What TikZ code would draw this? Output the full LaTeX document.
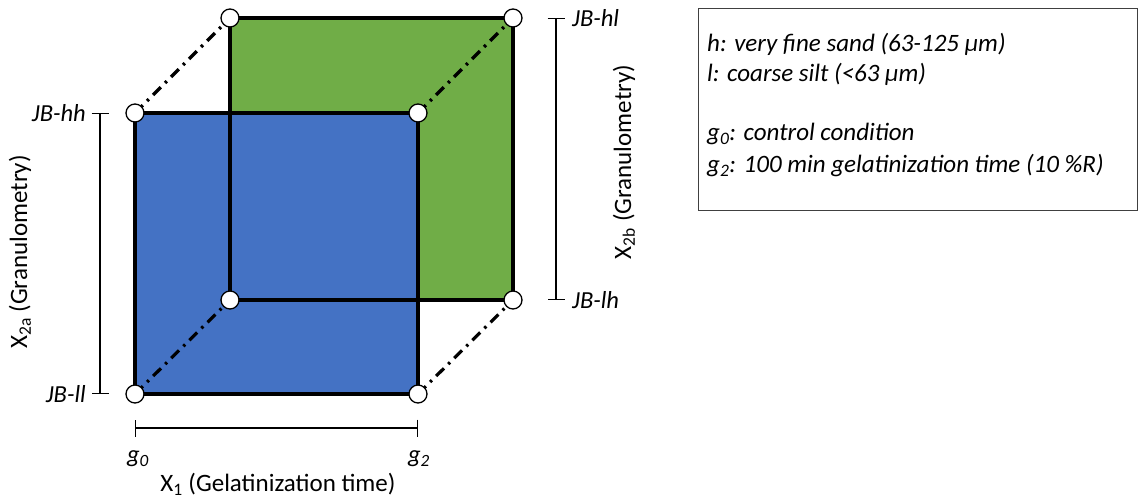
\documentclass[tikz,border=0pt]{standalone}
\usepackage{fontspec}
\setmainfont{Carlito}
\usetikzlibrary{arrows.meta}
\definecolor{fblue}{HTML}{4472C4}
\definecolor{fgreen}{HTML}{70AD47}
\definecolor{boxgray}{HTML}{404040}
\tikzset{
  edge/.style={line width=3.2pt, line cap=round},
  diag/.style={line width=3.2pt, dash pattern=on 11pt off 6pt on 2.5pt off 6pt},
  vertex/.style={circle, draw=black, fill=white, line width=1.3pt, minimum size=18pt, inner sep=0pt},
  axisline/.style={line width=1.4pt, {Bar[width=17pt,line width=1.4pt]}-{Bar[width=17pt,line width=1.4pt]}},
  lab/.style={font=\fontsize{24.5}{29}\selectfont\itshape, inner sep=0pt},
  leg/.style={font=\fontsize{25}{30}\selectfont\itshape, inner sep=0pt},
  axlab/.style={font=\fontsize{25}{30}\selectfont, inner sep=0pt}
}
\begin{document}
\begin{tikzpicture}[x=1pt,y=-1pt]
\useasboundingbox (0,0) rectangle (1140,500);
% corners
\coordinate (fll) at (135,394);
\coordinate (flr) at (418,394);
\coordinate (fhl) at (135,113);
\coordinate (fhr) at (418,113);
\coordinate (bll) at (230,300);
\coordinate (blr) at (513,300);
\coordinate (bhl) at (230,18);
\coordinate (bhr) at (513,18);
% fills
\fill[fgreen] (bll) rectangle (bhr);
\fill[fblue] (fll) rectangle (fhr);
% outlines
\draw[edge] (bll) -- (blr) -- (bhr) -- (bhl) -- cycle;
\draw[edge] (fll) -- (flr) -- (fhr) -- (fhl) -- cycle;
% diagonals
\draw[diag] (fhl) -- (bhl);
\draw[diag] (fhr) -- (bhr);
\draw[diag] (fll) -- (bll);
\draw[diag] (flr) -- (blr);
% vertices
\foreach \p in {fll,flr,fhl,fhr,bll,blr,bhl,bhr}
  \node[vertex] (v\p) at (\p) {};
% left axis
\coordinate (la1) at (100,113);
\coordinate (la2) at (100,394);
\draw[axisline] (la1) -- (la2);
\node[lab, anchor=east] (jbhh) at (86,113) {JB-hh};
\node[lab, anchor=east] (jbll) at (86,394) {JB-ll};
\node[axlab, rotate=90] (x2a) at (20,252) {X\textsubscript{2a} (Granulometry)};
% right axis
\coordinate (ra1) at (556,18);
\coordinate (ra2) at (556,300);
\draw[axisline] (ra1) -- (ra2);
\node[lab, anchor=west] (jbhl) at (572,18) {JB-hl};
\node[lab, anchor=west] (jblh) at (572,300) {JB-lh};
\node[axlab, rotate=90] (x2b) at (624,162) {X\textsubscript{2b} (Granulometry)};
% bottom axis
\coordinate (ba1) at (135,428);
\coordinate (ba2) at (418,428);
\draw[axisline] (ba1) -- (ba2);
\node[lab] (g0) at (138,459) {g\textsubscript{0}};
\node[lab] (g2) at (419,459) {g\textsubscript{2}};
\node[axlab] (x1) at (278,484) {X\textsubscript{1} (Gelatinization time)};
% legend
\draw[boxgray, line width=1pt] (698,9) rectangle (1137,210);
\node[leg, anchor=west] (l1) at (707,44) {h: very fine sand (63-125 µm)};
\node[leg, anchor=west] (l2) at (707,74) {l: coarse silt (<63 µm)};
\node[leg, anchor=west] (l3) at (707,134) {g\textsubscript{0}: control condition};
\node[leg, anchor=west] (l4) at (707,166) {g\textsubscript{2}: 100 min gelatinization time (10 \%R)};
\end{tikzpicture}
\end{document}
